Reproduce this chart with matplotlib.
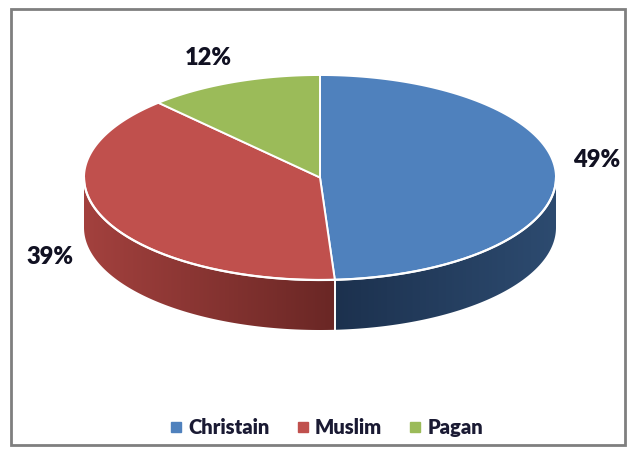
import numpy as np
import matplotlib
matplotlib.use("Agg")
import matplotlib.pyplot as plt
from matplotlib.patches import Polygon, Rectangle
from matplotlib.lines import Line2D
import matplotlib.colors as mcolors

categories = ["Christain", "Muslim", "Pagan"]
values = [49, 39, 12]
labels = ["49%", "39%", "12%"]
top_colors = ["#4f81bd", "#c0504d", "#9bbb59"]
# side shading (left end, right end of visible wall, by screen x)
side_colors = [("#1c314e", "#2d4b70"), ("#a3413e", "#6a2725"), ("#6d8a3c", "#5b7530")]

plt.rcParams['font.family'] = ['Lato', 'DejaVu Sans']

fig = plt.figure(figsize=(6.37, 4.59), dpi=100)
ax = fig.add_axes([0, 0, 1, 1])
ax.set_xlim(0, 637)
ax.set_ylim(459, 0)
ax.axis('off')

# pie geometry in pixel space
cx, cy, a, b, depth = 320, 177.5, 236, 102.5, 50


def pt(theta_deg, dy=0):
    t = np.radians(theta_deg)
    return cx + a * np.sin(t), cy - b * np.cos(t) + dy


fracs = np.array(values) / sum(values) * 360
starts = np.concatenate([[0], np.cumsum(fracs)[:-1]])
ends = np.cumsum(fracs)

# side walls (front half: 90..270 deg clockwise from top), gradient clipped to shape
for s, e, (c0, c1) in zip(starts, ends, side_colors):
    lo, hi = max(s, 90), min(e, 270)
    if lo >= hi:
        continue
    th = np.linspace(lo, hi, 150)
    xs, ys = pt(th)
    verts = list(zip(xs, ys)) + list(zip(xs[::-1], ys[::-1] + depth))
    poly = Polygon(verts, closed=True, facecolor='none', edgecolor='none')
    ax.add_patch(poly)
    cmap = mcolors.LinearSegmentedColormap.from_list('side', [c0, c1])
    grad = np.linspace(0, 1, 256).reshape(1, -1)
    im = ax.imshow(grad, cmap=cmap, aspect='auto', interpolation='bilinear',
                   extent=(xs.min(), xs.max(), ys.max() + depth, ys.min()))
    im.set_clip_path(poly)

ax.set_xlim(0, 637)
ax.set_ylim(459, 0)

# top surface wedges
for s, e, c in zip(starts, ends, top_colors):
    th = np.linspace(s, e, 120)
    xs, ys = pt(th)
    verts = [(cx, cy)] + list(zip(xs, ys))
    ax.add_patch(Polygon(verts, closed=True, facecolor=c, edgecolor='white', lw=1.4,
                         joinstyle='round', zorder=3))

# white rim along front edge and seams on side
th = np.linspace(90, 270, 200)
xs, ys = pt(th)
ax.plot(xs, ys, color='white', lw=1.6, solid_capstyle='round', zorder=4)
for e in ends:
    if 90 <= e % 360 <= 270:
        x0, y0 = pt(e)
        ax.plot([x0, x0], [y0, y0 + depth], color='white', lw=1.4, zorder=4)

# data labels
label_pos = [(597, 160), (50, 257), (208, 58)]
for txt, (lx, ly) in zip(labels, label_pos):
    ax.text(lx, ly, txt, ha='center', va='center', fontsize=17, fontweight='heavy',
            color='#111122', zorder=5)

# chart border
ax.add_patch(Rectangle((11, 9), 614, 436, fill=False, edgecolor='#7f7f7f', lw=2))

handles = [Line2D([], [], marker='s', linestyle='none', markersize=6.5,
                  markerfacecolor=c, markeredgecolor=c) for c in top_colors]
leg = ax.legend(handles, categories, loc='center', bbox_to_anchor=(0.51, 0.068),
                ncol=3, frameon=False, fontsize=14.5, handletextpad=0.15,
                columnspacing=1.2, handlelength=0.9)
for t in leg.get_texts():
    t.set_fontweight('heavy')
    t.set_color('#1a1a33')

fig.savefig("out.png", dpi=100)
